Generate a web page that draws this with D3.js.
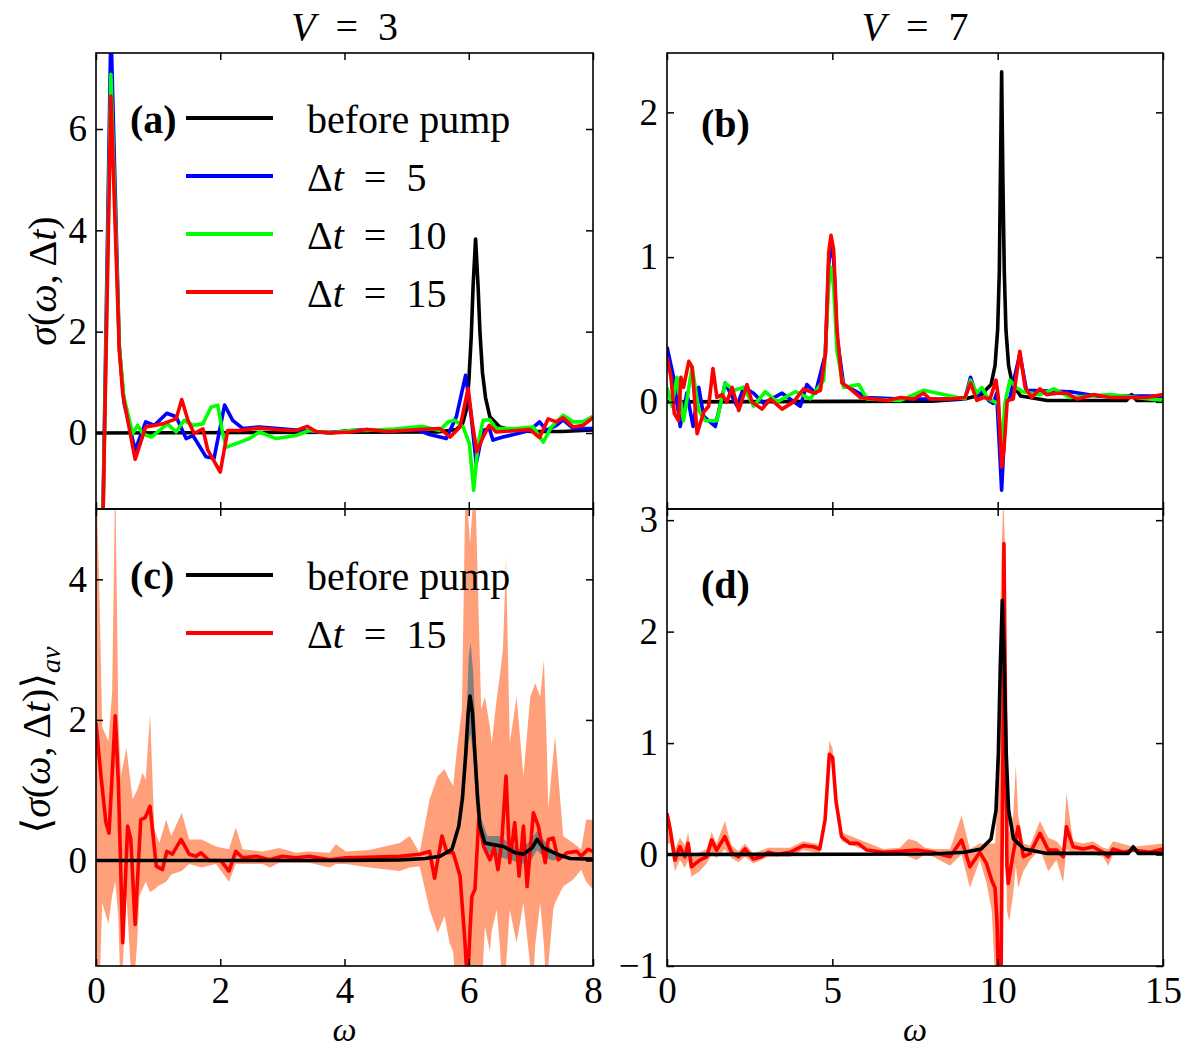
<!DOCTYPE html>
<html>
<head>
<meta charset="utf-8">
<script src="https://cdn.jsdelivr.net/npm/d3@7"></script>
<style>
  body { margin: 0; background: #fff; }
  svg text { font-family: 'Liberation Serif', 'DejaVu Serif', serif !important; fill: #000; }
</style>
</head>
<body>
<div id="chart"></div>
<script>
// ---- data: [omega, value] ----
const aBlack = [[0,0],[5.5,0.02],[5.8,0.07],[5.9,0.18],[5.96,0.45],[6.0,1.0],[6.04,1.9],[6.07,2.9],[6.11,3.83],[6.15,2.9],[6.18,2.0],[6.22,1.2],[6.27,0.7],[6.34,0.32],[6.5,0.12],[6.66,0.07],[7.0,0.03],[7.5,0.03],[8.0,0.06]];
const aBlue = [[0,-4],[0.1,-2.5],[0.24,8.0],[0.375,1.7],[0.45,0.6],[0.63,-0.34],[0.8,0.22],[0.94,0.15],[1.14,0.39],[1.29,0.32],[1.45,-0.11],[1.56,-0.05],[1.77,-0.47],[1.9,-0.5],[2.01,0.18],[2.07,0.55],[2.2,0.25],[2.36,0.09],[2.63,0.12],[3.22,0.06],[3.75,0.0],[4.0,0.04],[4.36,0.07],[4.7,0.03],[5.0,0.06],[5.2,0.05],[5.37,-0.03],[5.64,-0.11],[5.8,0.32],[5.95,1.14],[6.04,0.32],[6.12,-0.6],[6.23,0.05],[6.33,0.09],[6.39,-0.14],[6.55,-0.08],[6.98,0.05],[7.14,0.22],[7.25,0.05],[7.41,0.15],[7.52,0.26],[7.68,0.09],[8.0,0.09]];
const aGreen = [[0,-4],[0.1,-2.5],[0.24,7.08],[0.375,1.7],[0.45,0.7],[0.59,-0.01],[0.67,0.15],[0.75,-0.01],[0.89,-0.08],[1.15,0.18],[1.29,0.02],[1.42,0.25],[1.56,0.15],[1.72,0.18],[1.85,0.51],[1.96,0.55],[2.04,-0.01],[2.1,-0.28],[2.47,-0.11],[2.63,0.02],[2.9,-0.11],[3.22,-0.05],[3.43,0.05],[3.77,0.0],[4.1,0.05],[4.36,0.05],[4.8,0.08],[5.26,0.13],[5.53,0.05],[5.67,0.22],[5.78,0.25],[5.91,0.12],[6.01,-0.21],[6.08,-1.13],[6.15,-0.21],[6.23,0.25],[6.34,0.26],[6.44,0.09],[6.77,0.09],[7.04,0.12],[7.2,-0.18],[7.33,0.12],[7.52,0.35],[7.68,0.22],[7.84,0.22],[8.0,0.33]];
const aRed = [[0,-4],[0.1,-2.5],[0.24,6.65],[0.375,1.63],[0.43,0.78],[0.63,-0.52],[0.8,0.12],[1.07,0.18],[1.29,0.28],[1.38,0.66],[1.48,0.25],[1.58,-0.01],[1.72,0.08],[1.8,-0.34],[2.0,-0.77],[2.12,0.05],[2.3,0.05],[2.63,0.1],[3.0,0.06],[3.22,0.05],[3.4,0.13],[3.54,0.03],[3.77,0.0],[4.1,0.02],[4.36,0.07],[4.7,0.03],[5.2,0.07],[5.53,0.09],[5.7,-0.08],[5.86,0.12],[5.99,0.88],[6.06,0.18],[6.13,-0.37],[6.23,-0.08],[6.33,0.15],[6.44,0.02],[6.77,0.05],[6.98,0.07],[7.14,-0.09],[7.28,0.28],[7.41,0.22],[7.52,0.3],[7.68,0.12],[7.84,0.15],[8.0,0.3]];

const bBlack = [[0,0],[8,0.005],[9.0,0.02],[9.5,0.05],[9.8,0.12],[9.92,0.25],[10.0,0.5],[10.05,0.9],[10.08,1.5],[10.12,2.28],[10.16,1.5],[10.2,0.9],[10.25,0.5],[10.33,0.25],[10.45,0.12],[10.7,0.04],[11.5,0.01],[13.9,0.01],[14.05,0.05],[14.2,0.01],[15,0.01]];
const bBlue = [[0,0.38],[0.2,0.17],[0.4,-0.17],[0.6,0.06],[0.79,-0.17],[0.96,0.1],[1.11,-0.1],[1.46,-0.17],[1.76,0.13],[2.12,-0.03],[2.32,0.1],[2.62,0.06],[2.92,-0.01],[3.48,0.06],[4.03,-0.03],[4.23,0.12],[4.49,0.06],[4.79,0.33],[4.89,0.95],[4.96,1.1],[5.04,0.98],[5.14,0.45],[5.34,0.12],[6.05,0.03],[7.06,0.02],[7.95,0.02],[9.01,0.02],[9.18,0.17],[9.37,0.03],[9.52,0.09],[9.72,0.01],[9.87,-0.01],[9.97,0.06],[10.12,-0.61],[10.25,-0.01],[10.37,0.03],[10.67,0.33],[10.87,0.08],[12.2,0.07],[13,0.04],[15,0.04]];
const bGreen = [[0,0.1],[0.15,-0.03],[0.3,0.17],[0.5,-0.13],[0.76,0.24],[0.96,-0.06],[1.16,-0.13],[1.51,-0.13],[1.76,0.13],[2.02,0.08],[2.32,0.1],[2.62,-0.03],[2.97,0.07],[3.33,0.0],[3.88,0.07],[4.33,0.02],[4.74,0.15],[4.89,0.8],[4.96,0.93],[5.04,0.8],[5.14,0.35],[5.34,0.1],[5.8,0.12],[6.05,0.02],[7.06,0.01],[7.76,0.08],[9.01,0.02],[9.18,0.15],[9.37,0.06],[9.52,0.1],[9.72,0.02],[10.02,-0.01],[10.12,-0.33],[10.22,-0.01],[10.37,0.15],[10.55,0.1],[10.77,0.07],[11.28,0.05],[11.7,0.09],[12.2,0.03],[13.4,0.05],[15,0.01]];
const bRed = [[0,0.31],[0.12,0.17],[0.22,-0.08],[0.35,-0.13],[0.42,0.17],[0.5,0.1],[0.66,0.28],[0.76,0.24],[0.91,-0.22],[1.11,-0.07],[1.26,-0.03],[1.39,0.23],[1.51,0.03],[1.66,0.05],[1.81,0.0],[1.97,0.1],[2.17,-0.06],[2.42,0.12],[2.57,0.0],[2.87,-0.05],[3.13,0.02],[3.48,-0.05],[3.83,0.0],[4.13,0.09],[4.44,0.06],[4.64,0.08],[4.79,0.33],[4.89,1.03],[4.96,1.15],[5.04,1.05],[5.14,0.5],[5.29,0.13],[5.54,0.09],[5.85,0.03],[6.25,0.02],[6.65,0.01],[7.06,0.03],[7.46,0.02],[7.76,0.06],[7.95,0.02],[8.56,0.02],[9.01,0.03],[9.18,0.13],[9.37,0.01],[9.57,0.03],[9.77,0.02],[9.95,0.15],[10.02,0.03],[10.12,-0.45],[10.19,-0.33],[10.29,0.01],[10.47,0.02],[10.67,0.35],[10.83,0.1],[11.03,0.03],[11.28,0.09],[11.48,0.05],[11.79,0.06],[12.09,0.06],[12.4,0.02],[12.9,0.05],[13.4,0.03],[14.0,0.03],[14.5,0.03],[15,0.05]];

const cBlack = [[0,0],[4,0.0],[4.9,0.01],[5.3,0.03],[5.54,0.06],[5.73,0.16],[5.84,0.49],[5.9,0.9],[5.95,1.5],[5.99,2.1],[6.02,2.34],[6.06,2.1],[6.1,1.5],[6.14,0.9],[6.18,0.49],[6.26,0.25],[6.37,0.23],[6.56,0.2],[6.75,0.11],[6.88,0.09],[7.02,0.18],[7.1,0.3],[7.2,0.18],[7.42,0.09],[7.63,0.03],[8.0,0.02]];
const cRed = [[0,1.96],[0.08,1.2],[0.16,0.54],[0.21,0.39],[0.31,2.06],[0.36,1.11],[0.43,-1.17],[0.51,0.49],[0.56,0.3],[0.63,-0.91],[0.72,0.58],[0.79,0.61],[0.87,0.77],[0.97,-0.08],[1.07,-0.13],[1.14,0.13],[1.23,0.09],[1.37,0.3],[1.5,0.09],[1.61,0.06],[1.69,0.11],[1.82,0.0],[2.01,0.0],[2.14,-0.15],[2.25,0.13],[2.36,0.04],[2.58,0.06],[2.79,0.01],[3.0,0.06],[3.22,0.04],[3.43,0.06],[3.76,0.01],[4.02,0.04],[4.5,0.05],[4.89,0.06],[5.21,0.09],[5.37,0.13],[5.45,-0.25],[5.57,0.35],[5.65,0.11],[5.75,0.11],[5.86,-0.22],[5.94,-1.17],[5.98,-1.8],[6.02,-1.0],[6.05,-0.51],[6.1,-0.41],[6.16,0.58],[6.24,0.2],[6.34,0.01],[6.41,0.18],[6.47,-0.13],[6.53,0.25],[6.6,1.2],[6.66,-0.03],[6.74,0.54],[6.81,-0.22],[6.88,0.49],[6.94,-0.37],[7.04,0.68],[7.12,0.49],[7.23,-0.03],[7.28,0.3],[7.36,0.32],[7.44,0.01],[7.58,0.11],[7.74,0.13],[7.81,0.06],[7.92,0.16],[8.0,0.13]];
// [omega, low, high]
const cBandRed = [[0,-2,5.5],[0.05,-2,4.0],[0.1,-0.6,1.9],[0.2,-0.9,1.7],[0.26,-0.5,2.4],[0.31,-0.3,5.5],[0.36,-0.8,2.0],[0.4,-2,1.2],[0.49,-0.5,1.6],[0.59,-2,0.87],[0.66,-1.2,1.0],[0.7,-0.5,1.1],[0.75,-0.4,1.25],[0.8,-0.3,1.15],[0.87,-0.45,2.08],[0.94,-0.41,0.44],[1.02,-0.35,0.25],[1.13,-0.3,0.58],[1.21,-0.2,0.35],[1.38,-0.15,0.68],[1.5,-0.05,0.3],[1.7,-0.1,0.3],[1.93,-0.05,0.2],[2.14,-0.3,0.16],[2.25,-0.05,0.47],[2.36,-0.05,0.16],[2.68,-0.05,0.13],[2.8,-0.1,0.15],[2.95,-0.03,0.18],[3.22,-0.03,0.11],[3.43,-0.03,0.13],[3.76,-0.1,0.11],[3.86,-0.05,0.23],[4.02,-0.05,0.13],[4.4,-0.1,0.15],[4.89,-0.15,0.25],[5.05,-0.1,0.35],[5.21,-0.08,0.11],[5.37,-0.7,0.87],[5.5,-1.03,1.2],[5.61,-0.79,1.3],[5.69,-1.17,1.15],[5.75,-1.3,1.06],[5.8,-2,1.5],[5.89,-2,2.15],[5.95,-2,5.5],[6.02,-2,4.5],[6.1,-2,5.5],[6.2,-2,2.15],[6.26,-0.93,2.33],[6.34,-1.3,1.9],[6.37,-1.0,1.67],[6.45,-0.7,2.3],[6.5,-1.2,2.62],[6.55,-2,3.0],[6.6,-1.5,4.29],[6.66,-0.7,1.67],[6.77,-1.17,2.33],[6.88,-0.6,1.2],[6.99,-1.5,2.33],[7.02,-2,2.4],[7.07,-1.2,2.52],[7.15,-0.6,2.33],[7.21,-1.2,2.86],[7.26,-2,1.5],[7.28,-1.5,0.73],[7.36,-0.7,1.5],[7.39,-0.6,1.77],[7.52,-0.37,0.35],[7.68,-0.27,0.25],[7.81,-0.13,0.16],[7.89,-0.3,0.58],[8.0,-0.41,0.58]];
const cBandGray = [[5.85,0.45,0.55],[5.95,1.2,1.7],[6.0,1.7,2.9],[6.03,1.8,3.1],[6.07,1.5,2.7],[6.12,0.9,1.6],[6.2,0.3,0.6],[6.3,0.12,0.35],[6.5,0.05,0.35],[6.7,0.0,0.22],[6.85,-0.05,0.15],[7.0,0.0,0.3],[7.1,0.15,0.42],[7.2,0.05,0.3],[7.35,0.0,0.15],[7.45,0.02,0.08]];

const dBlack = [[0,0],[8,0.005],[9.0,0.02],[9.5,0.05],[9.8,0.14],[9.95,0.4],[10.02,0.9],[10.08,1.7],[10.14,2.28],[10.2,1.7],[10.26,0.9],[10.33,0.4],[10.48,0.14],[10.8,0.05],[11.5,0.01],[13.95,0.01],[14.1,0.07],[14.25,0.01],[15,0.01]];
const dRed = [[0,0.37],[0.1,0.22],[0.24,-0.05],[0.39,0.07],[0.54,-0.02],[0.64,0.1],[0.74,-0.11],[0.99,-0.05],[1.2,-0.02],[1.35,0.13],[1.5,0.04],[1.75,0.16],[1.95,0.02],[2.16,-0.02],[2.36,0.05],[2.61,-0.04],[2.86,-0.02],[3.06,0.02],[3.32,0.0],[3.72,0.02],[4.12,0.08],[4.42,0.07],[4.62,0.05],[4.78,0.31],[4.91,0.9],[5.01,0.87],[5.11,0.48],[5.28,0.16],[5.53,0.1],[5.78,0.1],[6.04,0.04],[6.54,0.02],[7.04,0.03],[7.55,0.04],[8.05,0.02],[8.56,-0.02],[8.91,0.13],[9.16,-0.11],[9.46,0.02],[9.66,-0.08],[9.82,-0.23],[9.92,-0.3],[9.98,-0.6],[10.03,-1.2],[10.1,-1.2],[10.16,1.0],[10.19,2.79],[10.23,1.5],[10.28,-0.1],[10.32,-0.26],[10.47,0.01],[10.62,0.25],[10.78,-0.02],[10.98,0.01],[11.28,0.19],[11.53,0.04],[11.78,0.04],[11.98,-0.02],[12.08,0.25],[12.28,0.07],[12.58,0.05],[12.88,0.07],[13.19,0.02],[13.34,-0.02],[13.49,0.05],[13.8,0.02],[14.1,0.04],[14.6,0.02],[15,0.05]];
const dBand = [[0,0.1,0.42],[0.1,0.1,0.3],[0.24,-0.15,0.05],[0.39,-0.05,0.15],[0.54,-0.12,0.08],[0.64,-0.05,0.2],[0.74,-0.2,0.0],[0.99,-0.15,0.02],[1.2,-0.08,0.05],[1.35,0.0,0.2],[1.5,-0.03,0.1],[1.75,0.05,0.3],[1.95,-0.03,0.08],[2.16,-0.07,0.03],[2.36,-0.02,0.1],[2.61,-0.08,0.01],[3.06,-0.02,0.06],[3.72,-0.02,0.06],[4.12,0.04,0.12],[4.62,0.01,0.09],[4.78,0.25,0.37],[4.91,0.85,1.02],[5.01,0.8,0.95],[5.11,0.43,0.53],[5.28,0.12,0.2],[5.78,0.06,0.14],[6.54,0.0,0.05],[7.04,0.0,0.06],[7.3,-0.02,0.14],[7.55,-0.05,0.12],[7.8,0.0,0.06],[8.05,-0.02,0.05],[8.56,-0.1,0.05],[8.91,0.0,0.35],[9.16,-0.3,0.05],[9.46,-0.05,0.1],[9.66,-0.25,0.1],[9.82,-0.5,0.1],[9.92,-1.1,0.1],[10.0,-1.1,0.5],[10.1,-1.1,2.5],[10.17,0.3,3.2],[10.22,0.5,2.8],[10.28,-0.5,1.0],[10.35,-0.6,0.2],[10.47,-0.35,0.35],[10.55,-0.1,0.8],[10.62,-0.3,0.35],[10.78,-0.15,0.1],[10.98,-0.05,0.08],[11.28,0.05,0.3],[11.53,-0.15,0.15],[11.78,-0.05,0.12],[11.98,-0.25,0.05],[12.08,0.05,0.55],[12.28,0.0,0.12],[12.58,0.0,0.1],[12.88,0.0,0.12],[13.19,-0.02,0.06],[13.34,-0.1,0.05],[13.49,0.0,0.12],[14.1,0.02,0.07],[15,0.02,0.1]];

const ticksX3 = [0, 2, 4, 6, 8];
const ticksX7 = [0, 5, 10, 15];
const ticksYa = [0, 2, 4, 6];
const ticksYb = [0, 1, 2];
const ticksYc = [0, 2, 4];
const ticksYd = [-1, 0, 1, 2, 3];

const colBlack = "#000000", colBlue = "#0000ff", colGreen = "#00ff00", colRed = "#ff0000";
const colBand = "#ffa07a", colGray = "#808080";

const svg = d3.select("#chart").append("svg")
    .attr("width", 1200).attr("height", 1050)
    .style("font-family", "'Liberation Serif', 'DejaVu Serif', serif");

const FS = 40;      // legend / titles
const TFS = 37;     // tick labels
const LW = 3.6;
const SP = "\u2002"; // wider space around "=" like TeX math
const tickFmt = d => d < 0 ? "\u2212" + Math.abs(d) : String(d);

function drawPanel(p) {
    const x = d3.scaleLinear().domain(p.xd).range([p.l, p.r]);
    const y = d3.scaleLinear().domain(p.yd).range([p.b, p.t]);
    const g = svg.append("g");

    g.append("clipPath").attr("id", "clip-" + p.id)
        .append("rect").attr("x", p.l).attr("y", p.t)
        .attr("width", p.r - p.l).attr("height", p.b - p.t);
    const plot = g.append("g").attr("clip-path", `url(#clip-${p.id})`);

    const area = d3.area().x(d => x(d[0])).y0(d => y(d[1])).y1(d => y(d[2]));
    const line = d3.line().x(d => x(d[0])).y(d => y(d[1]));

    (p.bands || []).forEach(b => {
        plot.append("path").datum(b.data).attr("d", area)
            .attr("fill", b.color).attr("stroke", "none");
    });
    p.lines.forEach(s => {
        plot.append("path").datum(s.data).attr("d", line)
            .attr("fill", "none").attr("stroke", s.color)
            .attr("stroke-width", LW).attr("stroke-linejoin", "round");
    });

    // inward ticks on all four sides
    const tk = 7;
    g.append("g").attr("transform", `translate(0,${p.b})`)
        .call(d3.axisBottom(x).tickValues(p.xt).tickSize(-tk).tickPadding(11)
            .tickFormat(p.xlabels ? tickFmt : ""));
    g.append("g").attr("transform", `translate(0,${p.t})`)
        .call(d3.axisTop(x).tickValues(p.xt).tickSize(-tk).tickFormat(""));
    g.append("g").attr("transform", `translate(${p.l},0)`)
        .call(d3.axisLeft(y).tickValues(p.yt).tickSize(-tk).tickPadding(9).tickFormat(tickFmt));
    g.append("g").attr("transform", `translate(${p.r},0)`)
        .call(d3.axisRight(y).tickValues(p.yt).tickSize(-tk).tickFormat(""));
    g.selectAll(".domain").remove();
    g.selectAll(".tick line").attr("stroke", "#000").attr("stroke-width", 1.5);
    g.selectAll(".tick text").attr("font-size", TFS).attr("fill", "#000");

    g.append("rect").attr("x", p.l).attr("y", p.t)
        .attr("width", p.r - p.l).attr("height", p.b - p.t)
        .attr("fill", "none").attr("stroke", "#000").attr("stroke-width", 1.6);

    g.append("text").attr("x", p.l + 34).attr("y", p.labelY)
        .attr("font-size", FS).attr("font-weight", "bold").text(p.label);
    return { x, y, g };
}

function mathText(sel, parts) {
    parts.forEach(pt => {
        const t = sel.append("tspan").text(pt[0]);
        if (pt[1] === "i") t.attr("font-style", "italic");
        if (pt[1] === "sub") t.attr("font-style", "italic").attr("font-size", FS * 0.7).attr("dy", 10);
    });
}

function legend(items, x0, y0) {
    items.forEach((it, i) => {
        const yy = y0 + i * 58;
        svg.append("line").attr("x1", x0).attr("x2", x0 + 87)
            .attr("y1", yy).attr("y2", yy)
            .attr("stroke", it.color).attr("stroke-width", 3.8);
        const t = svg.append("text").attr("x", x0 + 121).attr("y", yy + 15).attr("font-size", FS);
        mathText(t, it.parts);
    });
}

drawPanel({ id: "a", l: 96, r: 593, t: 53, b: 509, xd: [0, 8], yd: [-1.5, 7.5],
    xt: ticksX3, yt: ticksYa, xlabels: false, label: "(a)", labelY: 133,
    lines: [{ data: aBlack, color: colBlack }, { data: aBlue, color: colBlue },
            { data: aGreen, color: colGreen }, { data: aRed, color: colRed }] });
drawPanel({ id: "b", l: 667, r: 1163, t: 53, b: 509, xd: [0, 15], yd: [-0.74, 2.41],
    xt: ticksX7, yt: ticksYb, xlabels: false, label: "(b)", labelY: 137,
    lines: [{ data: bBlack, color: colBlack }, { data: bBlue, color: colBlue },
            { data: bGreen, color: colGreen }, { data: bRed, color: colRed }] });
drawPanel({ id: "c", l: 96, r: 593, t: 509, b: 966, xd: [0, 8], yd: [-1.5, 5.0],
    xt: ticksX3, yt: ticksYc, xlabels: true, label: "(c)", labelY: 589,
    bands: [{ data: cBandRed, color: colBand }, { data: cBandGray, color: colGray }],
    lines: [{ data: cRed, color: colRed }, { data: cBlack, color: colBlack }] });
drawPanel({ id: "d", l: 667, r: 1163, t: 509, b: 966, xd: [0, 15], yd: [-1.0, 3.1],
    xt: ticksX7, yt: ticksYd, xlabels: true, label: "(d)", labelY: 598,
    bands: [{ data: dBand, color: colBand }],
    lines: [{ data: dRed, color: colRed }, { data: dBlack, color: colBlack }] });

legend([
    { color: colBlack, parts: [["before pump"]] },
    { color: colBlue, parts: [["\u0394"], ["t", "i"], [SP + "=" + SP + "5"]] },
    { color: colGreen, parts: [["\u0394"], ["t", "i"], [SP + "=" + SP + "10"]] },
    { color: colRed, parts: [["\u0394"], ["t", "i"], [SP + "=" + SP + "15"]] }
], 186, 118);
legend([
    { color: colBlack, parts: [["before pump"]] },
    { color: colRed, parts: [["\u0394"], ["t", "i"], [SP + "=" + SP + "15"]] }
], 186, 575);

// column titles
[[344.5, "3"], [915, "7"]].forEach(([cx, v]) => {
    const t = svg.append("text").attr("x", cx).attr("y", 40)
        .attr("text-anchor", "middle").attr("font-size", FS);
    mathText(t, [["V", "i"], [SP + "=" + SP + v]]);
});

// x labels
[344.5, 915].forEach(cx => {
    svg.append("text").attr("x", cx).attr("y", 1041).attr("text-anchor", "middle")
        .attr("font-size", 34).attr("font-style", "italic").text("\u03c9");
});

// y labels
const yl1 = svg.append("text").attr("transform", "translate(56,281) rotate(-90)")
    .attr("text-anchor", "middle").attr("font-size", FS);
mathText(yl1, [["\u03c3", "i"], ["("], ["\u03c9", "i"], [", \u0394"], ["t", "i"], [")"]]);
const yl2 = svg.append("text").attr("transform", "translate(50,740) rotate(-90)")
    .attr("text-anchor", "middle").attr("font-size", FS);
mathText(yl2, [["\u27e8"], ["\u03c3", "i"], ["("], ["\u03c9", "i"], [", \u0394"], ["t", "i"], [")\u27e9"], ["av", "sub"]]);
</script>
</body>
</html>
